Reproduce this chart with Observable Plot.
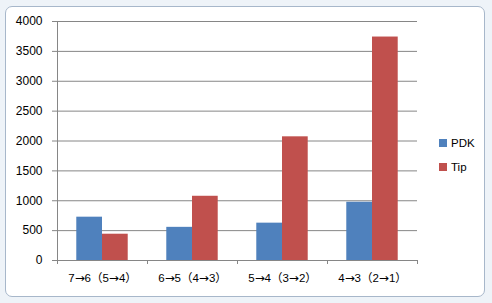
<!DOCTYPE html>
<html>
<head>
<meta charset="utf-8">
<script src="https://cdn.jsdelivr.net/npm/d3@7"></script>
<script src="https://cdn.jsdelivr.net/npm/@observablehq/plot@0.6"></script>
<style>
  @font-face { font-family: "ArrowFace"; src: local("DejaVu Sans"), local("DejaVuSans"); unicode-range: U+2190-21FF; }
  html, body { margin: 0; padding: 0; }
  body { width: 492px; height: 303px; background: #eef3f8; position: relative; overflow: hidden;
         font-family: "Liberation Sans", "Noto Sans CJK SC", sans-serif; }
  #frame { position: absolute; left: 5px; top: 6px; width: 478px; height: 289px;
           background: #fff; border: 1px solid #a7b7ca; border-radius: 7px; }
  #chart { position: absolute; left: 0; top: 0; }
  #legend { position: absolute; left: 439px; top: 131px; font-size: 11.5px; color: #000; }
  .item { display: flex; align-items: center; height: 24px; }
  .sw { width: 8px; height: 8px; margin-right: 4px; }
</style>
</head>
<body>
<div id="frame"></div>
<div id="chart"></div>
<div id="legend"></div>
<script>
const categories = ["7→6（5→4）", "6→5（4→3）", "5→4（3→2）", "4→3（2→1）"];
const seriesNames = ["PDK", "Tip"];
const pdkValues = [725, 555, 625, 975];
const tipValues = [440, 1075, 2070, 3740];
const seriesColors = ["#4F81BD", "#C0504D"];
const yTicks = [0, 500, 1000, 1500, 2000, 2500, 3000, 3500, 4000];

// Excel-like clustered layout: gap width 150% of one bar
const barW = 1 / 3.5;
const gapHalf = 0.75 / 3.5;

const data = categories.flatMap((c, i) => [
  {cat: c, i, series: "PDK", value: pdkValues[i], k: 0},
  {cat: c, i, series: "Tip", value: tipValues[i], k: 1}
]);

const font = '"Liberation Sans", "Noto Sans CJK SC", sans-serif';
const labelFont = '"ArrowFace", "Liberation Sans", "Noto Sans CJK SC", sans-serif';

const chart = Plot.plot({
  width: 492,
  height: 303,
  marginLeft: 57,
  marginRight: 75,
  marginTop: 21,
  marginBottom: 43,
  style: {fontFamily: font, fontSize: "12px", color: "#000", background: "transparent"},
  x: {domain: [0, categories.length], ticks: d3.range(categories.length + 1), tickFormat: () => "", tickSize: 4, label: null},
  y: {domain: [0, 4000], ticks: yTicks, tickSize: 5, tickPadding: 10, label: null, tickFormat: d => String(d)},
  color: {domain: seriesNames, range: seriesColors},
  marks: [
    Plot.ruleY(yTicks.slice(1), {stroke: "#868686", strokeOpacity: 1}),
    Plot.rectY(data, {
      x1: d => d.i + gapHalf + d.k * barW,
      x2: d => d.i + gapHalf + (d.k + 1) * barW,
      y: "value",
      fill: "series",
      inset: 0
    }),
    Plot.ruleX([0], {stroke: "#868686"}),
    Plot.ruleY([0], {stroke: "#868686"}),
    Plot.text(categories, {x: (d, i) => i + 0.5, y: 0, text: d => d, dy: 18, fontSize: 11.5, fill: "#000", fontFamily: labelFont})
  ]
});
chart.querySelectorAll("g[aria-label='x-axis tick'] path, g[aria-label='y-axis tick'] path").forEach(e => e.setAttribute("stroke", "#868686"));
document.getElementById("chart").appendChild(chart);

const legend = d3.select("#legend");
seriesNames.forEach((s, i) => {
  const it = legend.append("div").attr("class", "item");
  it.append("div").attr("class", "sw").style("background", seriesColors[i]);
  it.append("span").text(s);
});
</script>
</body>
</html>
